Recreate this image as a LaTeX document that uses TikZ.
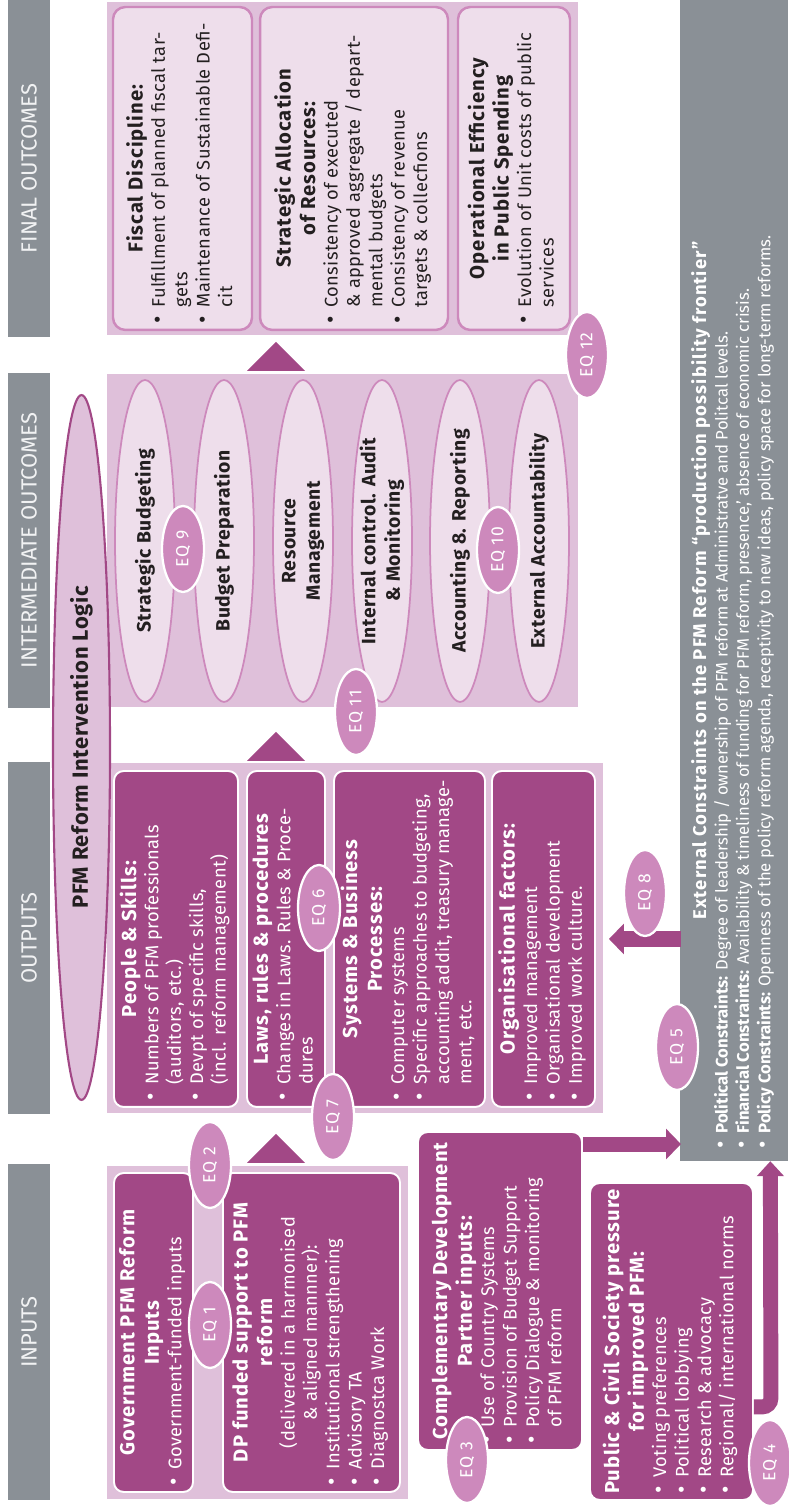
\documentclass[tikz,border=0pt]{standalone}
\usepackage{fontspec}
\setmainfont{Fira Sans}
\usetikzlibrary{shapes.geometric, arrows.meta, calc}
\definecolor{pfmplum}{HTML}{A24886}
\definecolor{pfmlilac}{HTML}{DFC0DA}
\definecolor{pfmblush}{HTML}{EEDEEB}
\definecolor{pfmorchid}{HTML}{CD89BC}
\definecolor{pfmslate}{HTML}{8A9096}
\definecolor{pfmink}{HTML}{231F20}
\newcommand\bodyfont{\fontsize{10.4}{12.75}\selectfont\addfontfeatures{LetterSpace=2}\lineskip=0pt}
\newcommand\constrfont{\fontsize{9.5}{12.2}\selectfont\lineskip=0pt}
\newcommand\ttl[1]{{\centering\bfseries\fontsize{11.5}{14}\selectfont\addfontfeatures{LetterSpace=5}#1\par}}
\newcommand\dotmark{\makebox[0.9em][l]{\raisebox{-0.3pt}{\fontsize{13}{12}\selectfont\textbullet}}}
\newcommand\bitem[1]{\par\noindent\dotmark\parbox[t]{\dimexpr\hsize-0.9em}{\raggedright\strut#1\strut}\par}
\tikzset{
  colhead/.style={fill=pfmslate, text=pfmslate!12, minimum height=0.84cm, inner sep=0pt, font=\fontsize{12.5}{15}\selectfont},
  panel/.style={fill=pfmlilac, inner sep=0pt},
  darkbox/.style={fill=pfmplum, draw=white, line width=1.1pt, rounded corners=5.5pt, text=white, inner xsep=0.12cm, inner ysep=1pt, align=flush left, font=\bodyfont},
  lightbox/.style={fill=pfmblush, draw=pfmorchid, line width=1.4pt, rounded corners=7pt, text=pfmink, inner xsep=0.12cm, inner ysep=1pt, align=flush left, font=\bodyfont},
  greybox/.style={fill=pfmslate, text=white, inner xsep=0.25cm, inner ysep=1pt, align=flush left, font=\constrfont},
  logic/.style={ellipse, fill=pfmlilac, draw=pfmplum, line width=1.2pt, minimum width=14.1cm, minimum height=1.14cm, inner sep=0pt, text=pfmink, font=\bfseries\fontsize{12.5}{14}\selectfont\addfontfeatures{LetterSpace=3}},
  pod/.style={ellipse, fill=pfmblush, draw=pfmorchid, line width=1pt, minimum width=6.44cm, minimum height=1.2cm, inner sep=0pt},
  podtext/.style={align=center, text=pfmink, inner sep=0pt, font=\bfseries\fontsize{11}{14}\selectfont\addfontfeatures{LetterSpace=3}},
  eq/.style={ellipse, fill=pfmorchid, draw=white, line width=1.3pt, minimum width=1.72cm, minimum height=0.84cm, inner sep=0pt, text=white, font=\fontsize{10}{11}\selectfont\addfontfeatures{LetterSpace=5}},
  headtri/.style={fill=pfmplum},
  fatarrow/.style={draw=pfmplum, line width=8.5pt, -{Triangle[length=8.5pt, width=17pt]}}
}
\begin{document}
\begin{tikzpicture}[x=0.02cm, y=0.02cm]
\useasboundingbox (0,0) rectangle (788,1506);
\begin{scope}[rotate=90, transform shape]
\node[colhead, minimum width=6.72cm] (hin) at (174,-29) {INPUTS};
\node[colhead, minimum width=7.04cm] (hout) at (568,-29) {OUTPUTS};
\node[colhead, minimum width=6.70cm] (hmid) at (965.5,-29) {INTERMEDIATE OUTCOMES};
\node[colhead, minimum width=6.74cm] (hfin) at (1337.5,-29) {FINAL OUTCOMES};

\node[panel, minimum width=6.66cm, minimum height=6.02cm] (pin) at (173.5,-257.5) {};
\node[panel, minimum width=7cm, minimum height=9.92cm] (pout) at (568,-355) {};
\node[panel, minimum width=6.66cm, minimum height=9.42cm] (pmid) at (965.5,-342.5) {};
\node[panel, minimum width=6.66cm, minimum height=9.42cm] (pfin) at (1337.5,-342.5) {};

\node[logic] (logic) at (758.5,-81.5) {PFM Reform Intervention Logic};

\node[darkbox, minimum width=6.38cm, minimum height=1.58cm, text width=6.14cm] (gov) at (173.5,-153.5)
  {\ttl{Government PFM Reform\\Inputs}\bitem{Government-funded inputs}};
\node[darkbox, minimum width=6.38cm, minimum height=3.54cm, text width=6.14cm] (dp) at (173.5,-311.5)
  {\ttl{DP funded support to PFM\\reform}{\centering(delivered in a harmonised\\\& aligned mannner):\par}\bitem{Institutional strengthening}\bitem{Advisory TA}\bitem{Diagnostca Work}};
\node[darkbox, minimum width=6.36cm, minimum height=3.28cm, text width=6.12cm] (comp) at (215,-500)
  {\ttl{Complementary Development\\Partner inputs:}\bitem{Use of Country Systems}\bitem{Provision of Budget Support}\bitem{Policy Dialogue \& monitoring\newline of PFM reform}};
\node[darkbox, minimum width=6.34cm, minimum height=3.26cm, text width=6.10cm] (pub) at (164.5,-671.5)
  {\ttl{Public \& Civil Society pressure\\for improved PFM:}\bitem{Voting preferences}\bitem{Political lobbying}\bitem{Research \& advocacy}\bitem{Regional/ international norms}};

\node[darkbox, minimum width=6.72cm, minimum height=2.48cm, text width=6.48cm] (ppl) at (567,-176)
  {\ttl{People \& Skills:}\bitem{Numbers of PFM professionals\newline (auditors, etc.)}\bitem{Devpt of specific skills,\newline (incl. reform management)}};
\node[darkbox, minimum width=6.72cm, minimum height=1.56cm, text width=6.48cm] (laws) at (567,-286)
  {\ttl{Laws, rules \& procedures}\bitem{Changes in Laws. Rules \& Proce-\newline dures}};
\node[darkbox, minimum width=6.72cm, minimum height=3.02cm, text width=6.48cm] (sys) at (567,-409.5)
  {\ttl{Systems \& Business\\Processes:}\bitem{Computer systems}\bitem{Specific approaches to budgeting,\newline accounting addit, treasury manage-\newline ment, etc.}};
\node[darkbox, minimum width=6.72cm, minimum height=2.06cm, text width=6.48cm] (org) at (567,-543.5)
  {\ttl{Organisational factors:}\bitem{Improved management}\bitem{Organisational development}\bitem{Improved work culture.}};

\node[pod] (sb) at (965,-145) {};
\node[podtext] (tsb) at (sb) {Strategic Budgeting};
\node[pod] (bp) at (965,-224) {};
\node[podtext] (tbp) at (bp) {Budget Preparation};
\node[pod] (rm) at (965,-303) {};
\node[podtext] (trm) at (rm) {Resource\\Management};
\node[pod] (ic) at (965,-382) {};
\node[podtext] (tic) at (ic) {Internal control. Audit\\\& Monitoring};
\node[pod] (ar) at (965,-460) {};
\node[podtext] (tar) at (ar) {Accounting 8. Reporting};
\node[pod] (ea) at (965,-539) {};
\node[podtext] (tea) at (ea) {External Accountability};

\node[lightbox, minimum width=6.46cm, minimum height=2.78cm, text width=6.22cm] (fisc) at (1337.5,-182.5)
  {\ttl{Fiscal Discipline:}\bitem{Fulfillment of planned fiscal tar-\newline gets}\bitem{Maintenance of Sustainable Defi-\newline cit}};
\node[lightbox, minimum width=6.46cm, minimum height=3.76cm, text width=6.22cm] (alloc) at (1337.5,-354)
  {\ttl{Strategic Allocation\\of Resources:}\bitem{Consistency of executed\newline \& approved aggregate / depart-\newline mental budgets}\bitem{Consistency of revenue\newline targets \& collecfions}};
\node[lightbox, minimum width=6.46cm, minimum height=2.24cm, text width=6.22cm] (oper) at (1337.5,-514)
  {\ttl{Operational Efficiency\\in Public Spending}\bitem{Evolution of Unit costs of public\newline services}};

\node[greybox, minimum width=23.22cm, minimum height=2.16cm, text width=22.72cm] (constr) at (925.5,-734)
  {{\centering\bfseries\fontsize{10.5}{13}\selectfont\addfontfeatures{LetterSpace=6}External Constraints on the PFM Reform “production possibility frontier”\par}\bitem{\textbf{Political Constraints:} Degree of leadership / ownership of PFM reform at Administratve and Politcal levels.}\bitem{\textbf{Financial Constraints:} Availability \& timeliness of funding for PFM reform, presence,’ absence of economic crisis.}\bitem{\textbf{Policy Constraints:} Openness of the policy reform agenda, receptivity to new ideas, policy space for long-term reforms.}};

\fill[headtri] (343,-247) -- (372,-276) -- (343,-305) -- cycle;
\fill[headtri] (745,-247) -- (774,-276) -- (745,-305) -- cycle;
\fill[headtri] (1135,-247) -- (1164,-276) -- (1135,-305) -- cycle;

\coordinate (compout) at ($(comp.south east)+(-13,0)$);
\draw[fatarrow] (compout) -- ++(0,-98);
\coordinate (pubout) at ($(pub.south west)+(94,0)$);
\draw[fatarrow, -{Triangle[length=8.5pt, width=15pt]}, rounded corners=5pt] (pubout) -- ++(0,-17) -- ($(constr.south west)+(0,18)$);
\coordinate (orgin) at ($(org.south)+(0,-13)$);
\draw[fatarrow, line width=9.5pt] ($(org.south)+(0,-85)$) -- (orgin);

\node[eq] (eq1) at (181,-210) {EQ 1};
\node[eq] (eq2) at (341,-210) {EQ 2};
\node[eq] (eq3) at (46,-467) {EQ 3};
\node[eq] (eq4) at (43,-770) {EQ 4};
\node[eq] (eq5) at (459,-677) {EQ 5};
\node[eq] (eq6) at (598,-319) {EQ 6};
\node[eq] (eq7) at (389,-333) {EQ 7};
\node[eq] (eq8) at (613,-645) {EQ 8};
\node[eq] (eq9) at (957,-183) {EQ 9};
\node[eq] (eq10) at (956,-498) {EQ 10};
\node[eq] (eq11) at (794,-356) {EQ 11};
\node[eq] (eq12) at (1151,-587) {EQ 12};
\end{scope}
\end{tikzpicture}
\end{document}
